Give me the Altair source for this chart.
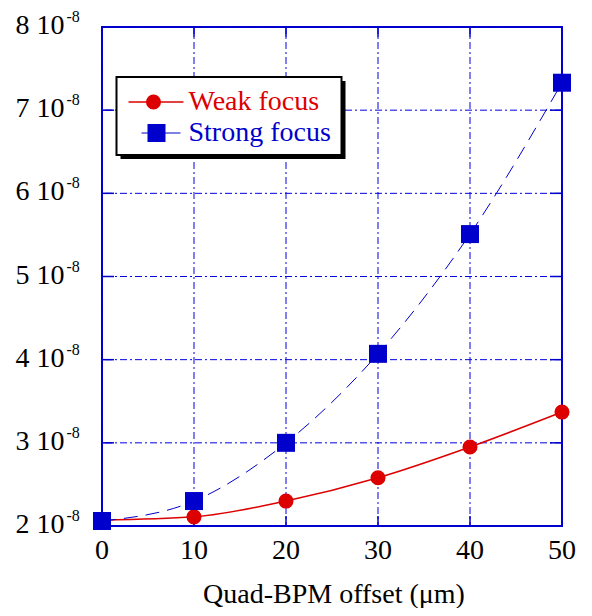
import altair as alt
import pandas as pd

# ---- data ----
offset = [0, 10, 20, 30, 40, 50]
weak = [2.07e-8, 2.11e-8, 2.30e-8, 2.58e-8, 2.95e-8, 3.37e-8]
strong = [2.06e-8, 2.30e-8, 3.00e-8, 4.07e-8, 5.51e-8, 7.33e-8]

x_ticks = [0, 10, 20, 30, 40, 50]
x_labels = ["0", "10", "20", "30", "40", "50"]
y_ticks = [2e-8, 3e-8, 4e-8, 5e-8, 6e-8, 7e-8, 8e-8]
y_main = ["2 10", "3 10", "4 10", "5 10", "6 10", "7 10", "8 10"]
y_sup = ["-8", "-8", "-8", "-8", "-8", "-8", "-8"]
x_title = "Quad-BPM offset (μm)"
series_names = ["Weak focus", "Strong focus"]

RED = "#dd0000"
BLUE = "#0000cc"
GRID = "#0000e0"
FONT = "Liberation Serif"
W, H = 460, 499

df = pd.DataFrame({"x": offset, "weak": weak, "strong": strong})
xt = pd.DataFrame({"x": x_ticks, "label": x_labels})
yt = pd.DataFrame({"y": y_ticks, "main": y_main, "sup": y_sup})

xs = alt.Scale(domain=[0, 50], nice=False, zero=False)
ys = alt.Scale(domain=[2e-8, 8e-8], nice=False, zero=False)

X = lambda f: alt.X(f, type="quantitative", scale=xs, axis=None)
Y = lambda f: alt.Y(f, type="quantitative", scale=ys, axis=None)

dash = [7, 3, 2, 3]
vgrid = alt.Chart(xt).mark_rule(color=GRID, strokeWidth=1, strokeDash=dash).encode(x=X("x"))
hgrid = alt.Chart(yt).mark_rule(color=GRID, strokeWidth=1, strokeDash=dash).encode(y=Y("y"))

tick_b = alt.Chart(xt).mark_rule(color=BLUE, strokeWidth=1.5).encode(
    x=X("x"), y=alt.value(H), y2=alt.value(H - 10))
tick_t = alt.Chart(xt).mark_rule(color=BLUE, strokeWidth=1.5).encode(
    x=X("x"), y=alt.value(0), y2=alt.value(10))
tick_l = alt.Chart(yt).mark_rule(color=BLUE, strokeWidth=1.5).encode(
    y=Y("y"), x=alt.value(0), x2=alt.value(12))
tick_r = alt.Chart(yt).mark_rule(color=BLUE, strokeWidth=1.5).encode(
    y=Y("y"), x=alt.value(W - 12), x2=alt.value(W))

weak_line = alt.Chart(df).mark_line(color=RED, strokeWidth=1.5, interpolate="monotone").encode(
    x=X("x"), y=Y("weak"))
strong_line = alt.Chart(df).mark_line(color=BLUE, strokeWidth=1, strokeDash=[14, 8],
                                      interpolate="monotone").encode(x=X("x"), y=Y("strong"))
weak_pts = alt.Chart(df).mark_point(shape="circle", filled=True, size=227, color=RED, opacity=1).encode(
    x=X("x"), y=Y("weak"))
strong_pts = alt.Chart(df).mark_point(shape="square", filled=True, size=324, color=BLUE, opacity=1).encode(
    x=X("x"), y=Y("strong"))

ylab = alt.Chart(yt).mark_text(align="right", baseline="alphabetic", font=FONT, fontSize=28,
                               dy=7, color="black").encode(
    y=Y("y"), x=alt.value(-37.5), text="main:N")
ysup = alt.Chart(yt).mark_text(align="left", baseline="alphabetic", font=FONT, fontSize=16,
                               dy=-5, color="black").encode(
    y=Y("y"), x=alt.value(-35.5), text="sup:N")
xlab = alt.Chart(xt).mark_text(align="center", baseline="alphabetic", font=FONT, fontSize=28,
                               color="black").encode(
    x=X("x"), y=alt.value(H + 33), text="label:N")
title = alt.Chart(pd.DataFrame({"t": [x_title]})).mark_text(
    align="center", baseline="alphabetic", font=FONT, fontSize=28, color="black").encode(
    x=alt.value(W / 2 + 2), y=alt.value(H + 77), text="t:N")

# ---- legend box ----
one = pd.DataFrame({"n": [0]})
shadow = alt.Chart(one).mark_rect(color="black").encode(
    x=alt.value(18.5), x2=alt.value(243.5), y=alt.value(54), y2=alt.value(132))
box = alt.Chart(one).mark_rect(fill="white", stroke="black", strokeWidth=2).encode(
    x=alt.value(14.5), x2=alt.value(239.5), y=alt.value(50), y2=alt.value(128))
leg_rline = alt.Chart(one).mark_rule(color=RED, strokeWidth=1.5).encode(
    x=alt.value(26.5), x2=alt.value(81.5), y=alt.value(75))
leg_rpt = alt.Chart(one).mark_point(shape="circle", filled=True, size=227, color=RED, opacity=1).encode(
    x=alt.value(51.5), y=alt.value(75))
leg_bline = alt.Chart(one).mark_rule(color=BLUE, strokeWidth=1).encode(
    x=alt.value(39.5), x2=alt.value(78.5), y=alt.value(106))
leg_bpt = alt.Chart(one).mark_point(shape="square", filled=True, size=324, color=BLUE, opacity=1).encode(
    x=alt.value(54.5), y=alt.value(106))
leg_rtext = alt.Chart(pd.DataFrame({"t": [series_names[0]]})).mark_text(
    align="left", baseline="alphabetic", font=FONT, fontSize=28, color=RED).encode(
    x=alt.value(86.5), y=alt.value(83), text="t:N")
leg_btext = alt.Chart(pd.DataFrame({"t": [series_names[1]]})).mark_text(
    align="left", baseline="alphabetic", font=FONT, fontSize=28, color=BLUE).encode(
    x=alt.value(86.5), y=alt.value(114), text="t:N")

chart = alt.layer(
    vgrid, hgrid, tick_b, tick_t, tick_l, tick_r,
    weak_line, strong_line, weak_pts, strong_pts,
    ylab, ysup, xlab, title,
    shadow, box, leg_rline, leg_rpt, leg_bline, leg_bpt, leg_rtext, leg_btext,
).properties(
    width=W, height=H,
    autosize=alt.AutoSizeParams(type="none"),
    padding={"left": 94, "top": 19, "right": 22, "bottom": 82},
).configure_view(stroke=BLUE, strokeWidth=2)

chart.save("out.html", embed_options={"renderer": "svg", "actions": False})
